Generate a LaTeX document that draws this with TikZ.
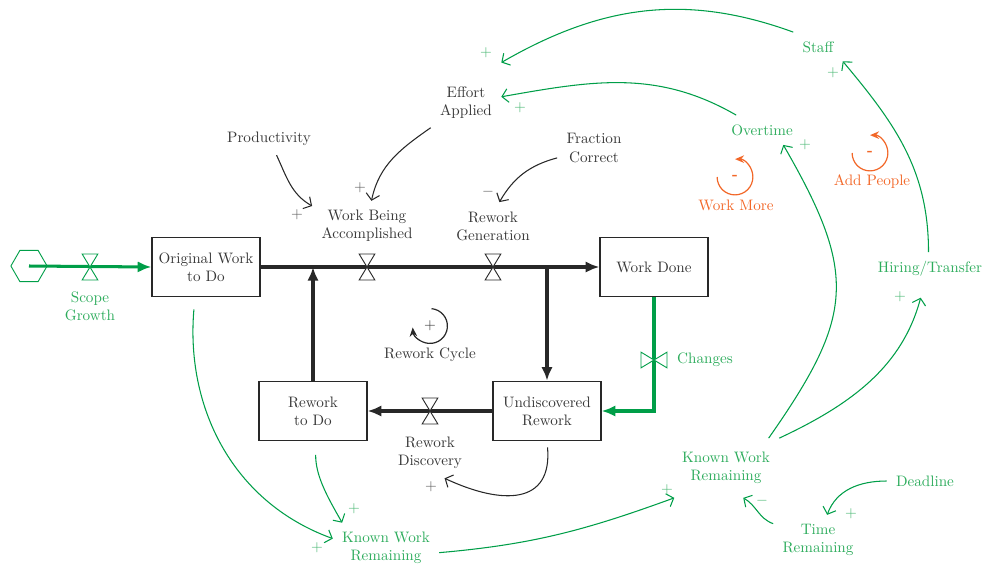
\documentclass[tikz,border=0pt]{standalone}
\usetikzlibrary{arrows.meta}
\usetikzlibrary{shapes.geometric}

\definecolor{ink}{RGB}{40,40,40}
\definecolor{inktext}{RGB}{55,55,55}
\definecolor{flowgreen}{RGB}{0,158,72}
\definecolor{textgreen}{RGB}{45,172,92}
\definecolor{looporange}{RGB}{242,103,40}

\tikzset{
  stock/.style={draw=ink,line width=1pt,minimum width=2.5cm,minimum height=1.37cm,align=center,text=inktext},
  aux/.style={align=center,inner sep=6pt,text=inktext},
  gaux/.style={aux,text=textgreen},
  flow/.style={ink,line width=2pt,-{Latex[length=9pt,width=7.5pt]}},
  gflow/.style={flow,flowgreen},
  link/.style={ink,line width=0.7pt,-{Straight Barb[length=4pt,width=9pt]}},
  glink/.style={link,flowgreen},
  sign/.style={text=ink!75,inner sep=0pt},
  gsign/.style={text=textgreen!85,inner sep=0pt},
  looparrow/.style={line width=0.8pt,-{Stealth[length=6pt,width=5pt]}},
  valve/.pic={
    \draw[fill=white,line width=0.6pt] (-5.2pt,8.6pt) -- (5.2pt,8.6pt) -- (-5.2pt,-8.6pt) -- (5.2pt,-8.6pt) -- cycle;
  },
}

\begin{document}
\begin{tikzpicture}[x=0.0232cm,y=-0.0232cm]
\useasboundingbox (0,0) rectangle (984,565);

% stocks
\node[stock] (orig) at (206,267) {Original Work\\to Do};
\node[stock] (wdone) at (654,267) {Work Done};
\node[stock] (rtd) at (313,411) {Rework\\to Do};
\node[stock] (undisc) at (547,411) {Undiscovered\\Rework};
\node[draw=flowgreen,line width=0.6pt,regular polygon,regular polygon sides=6,minimum size=0.84cm,inner sep=0pt] (cloud) at (29,266) {};

% rates
\node[gaux] (scope) at (90,306) {Scope\\Growth};
\node[aux] (wba) at (367,226) {Work Being\\Accomplished};
\node[aux] (rgen) at (493,226) {Rework\\Generation};
\node[aux] (rdisc) at (430,453) {Rework\\Discovery};
\node[gaux] (changes) at (705,360) {Changes};

% auxiliaries
\node[aux] (prod) at (269,139) {Productivity};
\node[aux] (effort) at (466,103) {Effort\\Applied};
\node[aux] (frac) at (594,148) {Fraction\\Correct};
\node[gaux] (staff) at (818,47) {Staff};
\node[gaux] (overtime) at (762,130) {Overtime};
\node[gaux] (hiring) at (930,269) {Hiring/Transfer};
\node[gaux,inner ysep=9pt] (kwr2) at (726,468) {Known Work\\Remaining};
\node[gaux] (deadline) at (925,481) {Deadline};
\node[gaux] (time) at (818,540) {Time\\Remaining};
\node[gaux] (kwrb) at (386,548) {Known Work\\Remaining};

% flows
\draw[gflow] (cloud.center) -- (orig.west);
\draw[flow] (orig.east) -- (wdone.west);
\draw[flow] (undisc.north |- orig.east) -- (undisc.north);
\draw[flow] (rtd.north) -- (rtd.north |- orig.east);
\draw[flow] (undisc.west) -- (rtd.east);
\draw[gflow] (wdone.south) |- (undisc.east);

% valves
\pic[color=flowgreen] at (scope |- orig) {valve};
\pic[color=ink] at (wba |- orig) {valve};
\pic[color=ink] at (rgen |- orig) {valve};
\pic[color=ink] at (rdisc |- undisc) {valve};
\pic[color=flowgreen,rotate=90] at (wdone.south |- changes) {valve};

% links
\draw[link] (prod) to[out=-65,in=150] (wba.160);
\draw[link] (effort) to[out=-145,in=78] (wba.80);
\draw[link] (frac) to[out=195,in=60] (rgen.75);
\draw[link,shorten <=4pt] (undisc.south) to[out=-85,in=-25,looseness=1.5] (rdisc.-60);

\draw[glink] (staff.north west) to[out=160,in=30] ([yshift=10pt]effort.north east);
\draw[glink] (overtime) to[out=150,in=10] (effort.10);
\draw[glink] (kwr2.35) to[out=55,in=-60,looseness=1.3] (overtime.-35);
\draw[glink,shorten >=8pt] (kwr2.north east) to[out=25,in=-105] (hiring.-110);
\draw[glink] (hiring.95) to[out=90,in=-50] (staff.-30);
\draw[glink] (deadline) to[out=180,in=70] (time.70);
\draw[glink] (time) to[out=160,in=-30] (kwr2.-60);
\draw[glink] (kwrb.-5) to[out=5,in=200] (kwr2.210);
\draw[glink,shorten <=8pt] (orig.-110) to[out=-95,in=160] (kwrb.170);
\draw[glink,shorten <=9pt] (rtd.-85) to[out=-90,in=120] (kwrb.150);

% polarities
\node[sign] (s1) at (297,215) {$+$};
\node[sign] (s2) at (360,188) {$+$};
\node[sign] (s3) at (488,192) {$-$};
\node[sign] (s4) at (431,487) {$+$};
\node[gsign] (s5) at (486,53) {$+$};
\node[gsign] (s6) at (520,108) {$+$};
\node[gsign] (s7) at (805,145) {$+$};
\node[gsign] (s8) at (833,73) {$+$};
\node[gsign] (s9) at (900,297) {$+$};
\node[gsign] (s10) at (851,514) {$+$};
\node[gsign] (s11) at (762,501) {$-$};
\node[gsign] (s12) at (667,490) {$+$};
\node[gsign] (s13) at (354,509) {$+$};
\node[gsign] (s14) at (317,548) {$+$};

% loops
\node[sign,text=inktext] (rcsign) at (430,326) {$+$};
\draw[looparrow,ink] ([shift={(85:11.5pt)}]rcsign.center) arc[start angle=85,end angle=-175,radius=11.5pt];
\node[text=inktext] (rcl) at (430,355) {Rework Cycle};

\node[text=looporange,inner sep=0pt] (wmsign) at (735,177) {\bfseries -};
\draw[looparrow,looporange] ([shift={(180:11.8pt)}]wmsign.center) arc[start angle=180,end angle=450,radius=11.8pt];
\node[text=looporange] (wml) at (736,205) {Work More};

\node[text=looporange,inner sep=0pt] (apsign) at (870,153) {\bfseries -};
\draw[looparrow,looporange] ([shift={(180:11.8pt)}]apsign.center) arc[start angle=180,end angle=450,radius=11.8pt];
\node[text=looporange] (apl) at (872,182) {Add People};
\end{tikzpicture}
\end{document}
